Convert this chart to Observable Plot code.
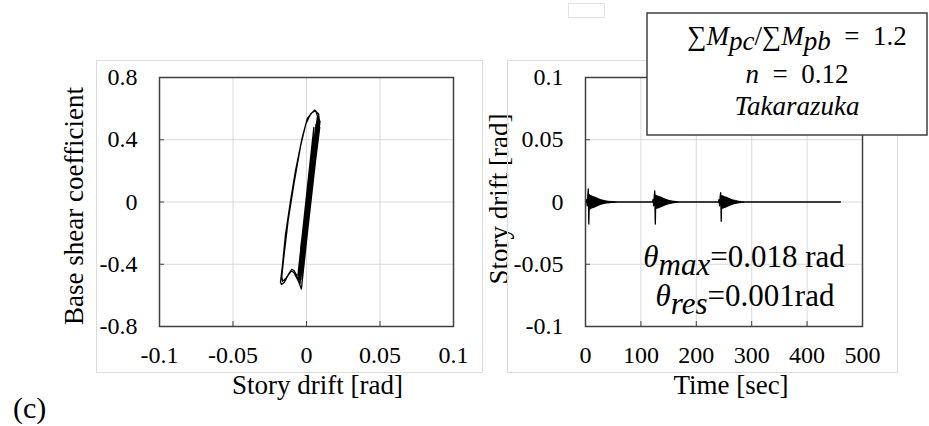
<!DOCTYPE html>
<html>
<head>
<meta charset="utf-8">
<script src="https://cdn.jsdelivr.net/npm/d3@7"></script>
<script src="https://cdn.jsdelivr.net/npm/@observablehq/plot@0.6"></script>
<style>
html, body { margin: 0; padding: 0; background: #fff; }
#chart { position: relative; width: 929px; height: 426px; overflow: hidden; background: #fff; }
#chart svg { position: absolute; top: 0; }
</style>
</head>
<body>
<div id="chart"></div>
<script>
// ---------- Data ----------
// Hysteresis loop: story drift [rad] vs base shear coefficient
const hystDrift = [
  0, 0.0030, -0.0020, 0.0050, -0.0040, 0.0075, 0.0062, 0.0035, 0.0005, -0.0030,
  -0.0075, -0.0110, -0.0143, -0.0165, -0.0177, -0.0170, -0.0150, -0.0120, -0.0100, -0.0085,
  -0.0068, -0.0050, -0.0035, 0.0088, 0.0082, 0.0055, 0.0028, -0.0005, -0.0040, -0.0085,
  -0.0125, -0.0155, -0.0168, -0.0163, -0.0140, -0.0105, -0.0088, -0.0060, -0.0045,
  0.0092, -0.0030, 0.0050, -0.0058, 0.0080, -0.0045, 0.0065, -0.0055, 0.0088, -0.0038,
  0.0085, -0.0048, 0.0070, -0.0035, 0.0090, -0.0052, 0.0062, -0.0045,
  0.0058, -0.0050, 0.0075, -0.0028, 0.0060, -0.0040, 0.0052, -0.0025, 0.0040, -0.0012,
  0.0025, 0.0005, 0.0012
];
const hystShear = [
  0, 0.22, -0.15, 0.38, -0.30, 0.55, 0.588, 0.572, 0.535, 0.41,
  0.20, 0.00, -0.21, -0.42, -0.515, -0.530, -0.515, -0.46, -0.433, -0.44,
  -0.47, -0.52, -0.56, 0.52, 0.565, 0.59, 0.565, 0.50, 0.36, 0.12,
  -0.12, -0.36, -0.48, -0.51, -0.49, -0.445, -0.45, -0.50, -0.53,
  0.52, -0.50, 0.48, -0.47, 0.55, -0.52, 0.50, -0.50, 0.50, -0.48,
  0.53, -0.50, 0.52, -0.46, 0.48, -0.48, 0.42, -0.40,
  0.45, -0.45, 0.47, -0.42, 0.38, -0.36, 0.30, -0.28, 0.20, -0.15,
  0.08, -0.05, 0.00
];

// Time history of story drift: three repeated records (1 s samples)
const burstStarts = [1, 121, 240];
const sampleStep = 1;
const burst1 = [0, 0.002, -0.003, 0.004, 0.0105, -0.0177, 0.006, -0.0055, 0.0052, -0.005,
  0.0048, -0.0046, 0.0045, -0.0043, 0.0041, -0.004, 0.0038, -0.0036, 0.0034, -0.0032,
  0.003, -0.0028, 0.0026, -0.0024, 0.0022, -0.002, 0.0019, -0.0018, 0.0016, -0.0015,
  0.0014, -0.0013, 0.0012, -0.0011, 0.001, -0.0009, 0.0009, -0.0008, 0.0007, -0.0007,
  0.0006, -0.0006, 0.0005, -0.0005, 0.0004, -0.0004, 0.0004, -0.0003, 0.0003, -0.0003,
  0.0003, -0.0002, 0.0002, -0.0002, 0.0002, -0.0002, 0.0001, -0.0001, 0.0001, -0.0001,
  0.0001, 0];
const burst2 = [0, 0.002, -0.003, 0.004, 0.009, -0.0177, 0.0055, -0.005, 0.005, -0.0048,
  0.0046, -0.0045, 0.0043, -0.0041, 0.004, -0.0038, 0.0036, -0.0034, 0.0032, -0.003,
  0.0028, -0.0026, 0.0024, -0.0022, 0.002, -0.0019, 0.0018, -0.0016, 0.0015, -0.0014,
  0.0013, -0.0012, 0.0011, -0.001, 0.0009, -0.0008, 0.0007, -0.0007, 0.0006, -0.0005,
  0.0005, -0.0004, 0.0004, -0.0003, 0.0003, -0.0002, 0.0002, -0.0002, 0.0001, -0.0001, 0];
const burst3 = [0, 0.002, -0.003, 0.004, 0.0075, -0.0155, 0.005, -0.005, 0.0048, -0.0046,
  0.0045, -0.0043, 0.0041, -0.004, 0.0038, -0.0036, 0.0034, -0.0032, 0.003, -0.0028,
  0.0026, -0.0024, 0.0022, -0.002, 0.0019, -0.0018, 0.0016, -0.0015, 0.0014, -0.0013,
  0.0012, -0.0011, 0.001, -0.0009, 0.0008, -0.0008, 0.0007, -0.0006, 0.0005, -0.0005,
  0.0004, -0.0004, 0.0003, -0.0003, 0.0002, -0.0002, 0.0002, -0.0001, 0.0001, -0.0001, 0];
const recordEnd = 460;
const endDrift = 0;

// Ticks and labels
const driftTicks = [-0.1, -0.05, 0, 0.05, 0.1];
const driftTickLabels = ["-0.1", "-0.05", "0", "0.05", "0.1"];
const shearTicks = [-0.8, -0.4, 0, 0.4, 0.8];
const shearTickLabels = ["-0.8", "-0.4", "0", "0.4", "0.8"];
const timeTicks = [0, 100, 200, 300, 400, 500];
const timeTickLabels = ["0", "100", "200", "300", "400", "500"];

// Texts
const leftXTitle = "Story drift [rad]";
const leftYTitle = "Base shear coefficient";
const rightXTitle = "Time [sec]";
const rightYTitle = "Story drift [rad]";
const panelTag = "(c)";

// ---------- Build tables ----------
const hyst = hystDrift.map((d, i) => ({drift: d, shear: hystShear[i]}));
const history = [{t: 0, d: 0}];
[burst1, burst2, burst3].forEach((b, k) =>
  b.forEach((v, i) => history.push({t: burstStarts[k] + i * sampleStep, d: v})));
history.push({t: recordEnd, d: endDrift});

const FONT = "'Liberation Serif', 'Times New Roman', serif";
const GRID = "#d9d9d9";
const FRAME = "#404040";
const labelMap = (ticks, labels) => new Map(ticks.map((v, i) => [v, labels[i]]));

function panel({width, marginLeft, marginRight, xDomain, yDomain, xTicks, xLabels, yTicks, yLabels, xTitle, yTitle, xTitleDx, yTitleDx, yTitleDy, data, x, y}) {
  const marginTop = 77, marginBottom = 100, height = 426;
  const fw = width - marginLeft - marginRight, fh = height - marginTop - marginBottom;
  const xl = labelMap(xTicks, xLabels), yl = labelMap(yTicks, yLabels);
  return Plot.plot({
    width, height, marginLeft, marginRight, marginTop, marginBottom,
    x: {domain: xDomain, axis: null},
    y: {domain: yDomain, axis: null},
    style: {background: "transparent", fontFamily: FONT, color: "#000", overflow: "visible"},
    marks: [
      Plot.gridX(xTicks, {stroke: GRID, strokeOpacity: 1, strokeWidth: 1}),
      Plot.gridY(yTicks, {stroke: GRID, strokeOpacity: 1, strokeWidth: 1}),
      Plot.tickX(xTicks, {x: d => d, stroke: FRAME, strokeWidth: 1, insetTop: fh - 5}),
      Plot.tickY(yTicks, {y: d => d, stroke: FRAME, strokeWidth: 1, insetRight: fw - 5}),
      Plot.line(data, {x, y, stroke: "#000", strokeWidth: 1.3, strokeLinejoin: "round"}),
      Plot.frame({stroke: FRAME, strokeWidth: 1.5}),
      Plot.text(xTicks, {x: d => d, frameAnchor: "bottom", text: d => xl.get(d), dy: 29, fontSize: 24, textAnchor: "middle", lineAnchor: "middle", fill: "#000"}),
      Plot.text(yTicks, {y: d => d, frameAnchor: "left", text: d => yl.get(d), dx: -22, fontSize: 24, textAnchor: "end", lineAnchor: "middle", fill: "#000"}),
      Plot.text([xTitle], {frameAnchor: "bottom", text: d => d, dy: 59, dx: xTitleDx, fontSize: 27, textAnchor: "middle", lineAnchor: "middle", fill: "#000"}),
      Plot.text([yTitle], {frameAnchor: "left", text: d => d, dx: yTitleDx, dy: yTitleDy, rotate: -90, fontSize: 27, textAnchor: "middle", lineAnchor: "middle", fill: "#000"})
    ]
  });
}

const left = panel({
  width: 480, marginLeft: 159, marginRight: 27,
  xDomain: [-0.1, 0.1], yDomain: [-0.8, 0.8],
  xTicks: driftTicks, xLabels: driftTickLabels, yTicks: shearTicks, yLabels: shearTickLabels,
  xTitle: leftXTitle, yTitle: leftYTitle, xTitleDx: 11, yTitleDx: -85, yTitleDy: 4,
  data: hyst, x: "drift", y: "shear"
});
const right = panel({
  width: 449, marginLeft: 105, marginRight: 67,
  xDomain: [0, 500], yDomain: [-0.1, 0.1],
  xTicks: timeTicks, xLabels: timeTickLabels, yTicks: driftTicks, yLabels: driftTickLabels,
  xTitle: rightXTitle, yTitle: rightYTitle, xTitleDx: 7, yTitleDx: -86, yTitleDy: -3,
  data: history, x: "t", y: "d"
});

const chart = document.getElementById("chart");
left.style.left = "0px";
right.style.left = "480px";
chart.appendChild(left);
chart.appendChild(right);

// ---------- Overlay: chart-area borders, annotation box, texts ----------
const ov = d3.create("svg").attr("width", 929).attr("height", 426)
  .style("left", "0px").style("font-family", FONT);
ov.append("rect").attr("x", 96.5).attr("y", 60.5).attr("width", 386).attr("height", 312)
  .attr("fill", "none").attr("stroke", "#dcdcdc");
ov.append("rect").attr("x", 507.5).attr("y", 60.5).attr("width", 390).attr("height", 312)
  .attr("fill", "none").attr("stroke", "#dcdcdc");
ov.append("rect").attr("x", 568.5).attr("y", 3.5).attr("width", 36).attr("height", 14)
  .attr("fill", "#fff").attr("stroke", "#e2e2e2");

// annotation box
ov.append("rect").attr("x", 647).attr("y", 13).attr("width", 280).attr("height", 122)
  .attr("fill", "#fff").attr("stroke", FRAME).attr("stroke-width", 1.5);

function rich(x, y, size, parts, anchor = "middle") {
  const t = ov.append("text").attr("x", x).attr("y", y).attr("font-size", size)
    .attr("text-anchor", anchor).attr("fill", "#000");
  parts.forEach(p => {
    const s = t.append("tspan").text(p.t);
    if (p.i) s.attr("font-style", "italic");
    if (p.dy) s.attr("dy", p.dy);
  });
  return t;
}
rich(797, 45, 27, [
  {t: "∑"}, {t: "M", i: 1}, {t: "pc", i: 1, dy: 5}, {t: "/∑", dy: -5}, {t: "M", i: 1},
  {t: "pb", i: 1, dy: 5}, {t: "\u2002=\u20021.2", dy: -5}
]);
rich(797, 83, 27, [{t: "n", i: 1}, {t: "\u2002=\u20020.12"}]);
rich(797, 115, 27, [{t: "Takarazuka", i: 1}]);

rich(744, 267, 31, [{t: "θ", i: 1}, {t: "max", i: 1, dy: 8}, {t: "=0.018 rad", dy: -8}]);
rich(745, 306, 31, [{t: "θ", i: 1}, {t: "res", i: 1, dy: 8}, {t: "=0.001rad", dy: -8}]);

ov.append("text").attr("x", 13).attr("y", 418).attr("font-size", 30).attr("fill", "#000").text(panelTag);

chart.appendChild(ov.node());
</script>
</body>
</html>
